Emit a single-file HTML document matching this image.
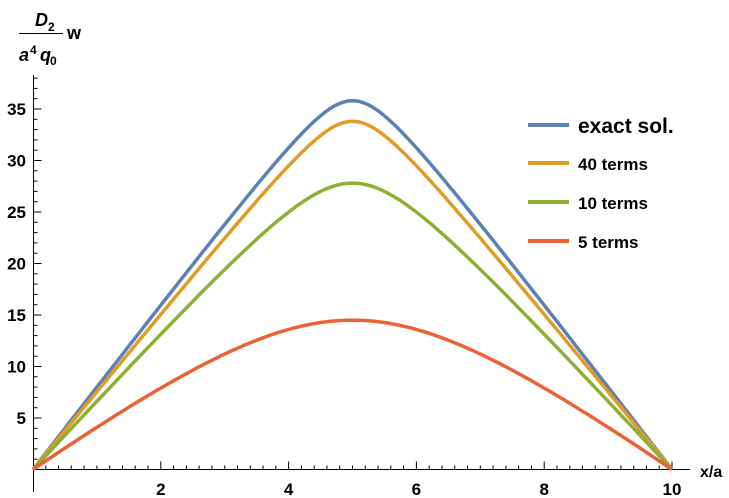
<!DOCTYPE html>
<html><head><meta charset="utf-8"><style>
html,body{margin:0;padding:0;background:#fff;}
svg{display:block;font-family:"Liberation Sans",Arial,sans-serif;}
</style></head><body>
<svg id="s" width="729" height="498" viewBox="0 0 729 498">
<g font-size="18" fill="#000" stroke="none" font-weight="bold">
<text x="35" y="26" font-style="italic">D</text><text x="48" y="31" font-size="12">2</text>
<line x1="19" y1="33.5" x2="44" y2="33.5" stroke="#000" stroke-width="1"/>
<line x1="19" y1="33.5" x2="63" y2="33.5" stroke="#000" stroke-width="1"/>
<text x="67" y="39">w</text>
<text x="19" y="61" font-style="italic">a</text><text x="30" y="54" font-size="12">4</text>
<text x="40" y="61" font-style="italic">q</text><text x="50" y="65" font-size="12">0</text>
</g>
<g id="ax" stroke="#000" stroke-width="1" fill="none"></g>
<g id="lab" font-size="17" fill="#000" font-weight="bold"></g>
<g id="cur" fill="none" stroke-width="3.5" stroke-linejoin="round"></g>
<g stroke-width="4">
<line x1="528" y1="125" x2="569" y2="125" stroke="#5E81B5"/>
<line x1="528" y1="163" x2="569" y2="163" stroke="#E19C24"/>
<line x1="528" y1="202" x2="569" y2="202" stroke="#8FB032"/>
<line x1="528" y1="241" x2="569" y2="241" stroke="#EB6235"/>
</g>
<g fill="#000" font-weight="bold">
<text x="578" y="133" font-size="21">exact sol.</text>
<text x="578" y="170" font-size="17">40 terms</text>
<text x="578" y="209" font-size="17">10 terms</text>
<text x="578" y="248" font-size="17">5 terms</text>
<text x="700" y="477" font-size="16">x/a</text>
</g>
</svg>
<script>
var X=v=>33+v*63.9, Y=v=>469.5-v*10.3;
var ax=document.getElementById('ax'),lab=document.getElementById('lab'),cur=document.getElementById('cur');
var h='<line x1="33.5" y1="75" x2="33.5" y2="492"/><line x1="33" y1="469.5" x2="690" y2="469.5"/>';
for(var i=1;i<=50;i++){var x=X(i/5);var maj=i%10==0;h+='<line x1="'+(x).toFixed(1)+'" y1="'+(469.5-(maj?8:4))+'" x2="'+x.toFixed(1)+'" y2="469.5"/>';
 if(maj)lab.innerHTML+='<text x="'+x+'" y="495" text-anchor="middle">'+(i/5)+'</text>';}
for(var j=1;j<=38;j++){var y=Y(j);var maj=j%5==0;h+='<line x1="33.5" y1="'+y.toFixed(1)+'" x2="'+(33.5+(maj?8:4))+'" y2="'+y.toFixed(1)+'"/>';
 if(maj)lab.innerHTML+='<text x="26" y="'+(y+6)+'" text-anchor="end">'+j+'</text>';}
ax.innerHTML=h;
function curve(peak,e,col){var s=peak/(Math.sqrt(25+e*e)-e),a=s*Math.sqrt(25+e*e),d='';
 for(var k=0;k<=200;k++){var x=k/20,v=a-s*Math.sqrt((x-5)*(x-5)+e*e);d+=(k?'L':'M')+X(x).toFixed(1)+','+Y(v).toFixed(1);}
 cur.innerHTML+='<path d="'+d+'" stroke="'+col+'"/>';}
curve(35.8,0.6,'#5E81B5');curve(33.8,0.6,'#E19C24');curve(27.8,1.0,'#8FB032');curve(14.5,2.5,'#EB6235');
</script>
</body></html>
